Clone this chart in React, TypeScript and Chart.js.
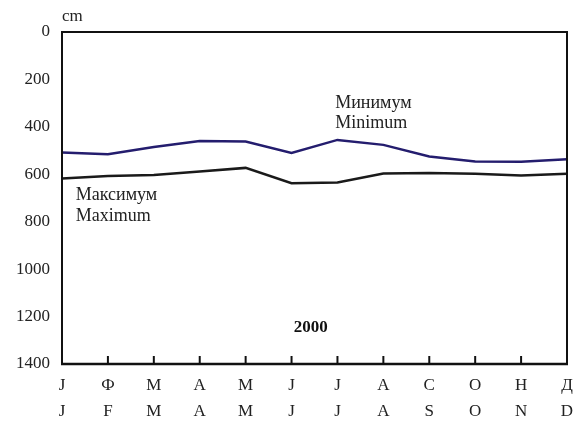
import React, { useEffect, useRef } from "react";
import { Chart, registerables } from "chart.js";

Chart.register(...registerables);

const monthsCyr = ["J", "Ф", "M", "A", "M", "J", "J", "A", "C", "O", "H", "Д"];
const monthsLat = ["J", "F", "M", "A", "M", "J", "J", "A", "S", "O", "N", "D"];
const minimumValues = [508, 515, 485, 460, 462, 510, 455, 476, 525, 546, 547, 537];
const maximumValues = [618, 607, 603, 588, 573, 638, 635, 597, 595, 598, 605, 598];
const yTicks = [0, 200, 400, 600, 800, 1000, 1200, 1400];

const FONT = "'Liberation Serif', 'DejaVu Serif', serif";

const decor = {
  id: "decor",
  afterDatasetsDraw(chart: any) {
    const { ctx, chartArea: a, scales } = chart;
    const x = scales.x;
    const y = scales.y;
    ctx.save();
    ctx.strokeStyle = "#111";
    ctx.lineWidth = 2;
    ctx.strokeRect(a.left, a.top, a.right - a.left, a.bottom - a.top);
    ctx.lineWidth = 2.5;
    ctx.beginPath();
    ctx.moveTo(a.left - 1, a.bottom);
    ctx.lineTo(a.right + 1, a.bottom);
    ctx.stroke();
    ctx.lineWidth = 2;
    for (let i = 1; i < monthsLat.length - 1; i++) {
      const px = x.getPixelForValue(i);
      ctx.beginPath();
      ctx.moveTo(px, a.bottom);
      ctx.lineTo(px, a.bottom - 8);
      ctx.stroke();
    }
    ctx.fillStyle = "#222";
    ctx.font = `17px ${FONT}`;
    ctx.textBaseline = "middle";
    ctx.textAlign = "left";
    ctx.fillText("cm", a.left, a.top - 15);
    ctx.font = `18px ${FONT}`;
    ctx.fillText("Минимум", x.getPixelForValue(5.95), y.getPixelForValue(300));
    ctx.fillText("Minimum", x.getPixelForValue(5.95), y.getPixelForValue(385));
    ctx.fillText("Максимум", x.getPixelForValue(0.3), y.getPixelForValue(688));
    ctx.fillText("Maximum", x.getPixelForValue(0.3), y.getPixelForValue(778));
    ctx.font = `bold 17px ${FONT}`;
    ctx.fillStyle = "#111";
    ctx.fillText("2000", x.getPixelForValue(5.05), y.getPixelForValue(1245));
    ctx.restore();
  },
};

export default function App() {
  const ref = useRef<HTMLCanvasElement | null>(null);
  useEffect(() => {
    document.body.style.margin = "0";
    const chart = new Chart(ref.current!, {
      type: "line",
      data: {
        labels: monthsCyr.map((c, i) => [c, monthsLat[i]]),
        datasets: [
          {
            label: "Минимум",
            data: minimumValues,
            borderColor: "#241d6e",
            borderWidth: 2.5,
            pointRadius: 0,
            tension: 0,
          },
          {
            label: "Максимум",
            data: maximumValues,
            borderColor: "#1a1a1a",
            borderWidth: 2.5,
            pointRadius: 0,
            tension: 0,
          },
        ],
      },
      options: {
        animation: false,
        responsive: false,
        layout: { padding: { top: 32, right: 0, left: 0, bottom: 0 } },
        plugins: { legend: { display: false }, tooltip: { enabled: false } },
        scales: {
          x: {
            offset: false,
            grid: { display: false, drawTicks: false },
            border: { display: false },
            ticks: {
              color: "#222",
              font: { family: FONT, size: 17, lineHeight: 1.53 },
              padding: 9,
              maxRotation: 0,
              autoSkip: false,
            },
            afterFit(s: any) {
              s.height = 58;
              s.paddingRight = 9;
            },
          },
          y: {
            reverse: true,
            min: 0,
            max: 1400,
            afterBuildTicks(s: any) {
              s.ticks = yTicks.map((v) => ({ value: v }));
            },
            grid: { display: false, drawTicks: false },
            border: { display: false },
            ticks: {
              color: "#222",
              font: { family: FONT, size: 17 },
              padding: 12,
              callback: (v: any) => String(v),
            },
            afterFit(s: any) {
              s.width = 62;
            },
          },
        },
      },
      plugins: [decor],
    });
    return () => chart.destroy();
  }, []);
  return (
    <div style={{ width: 576, height: 422 }}>
      <canvas ref={ref} width={576} height={422} />
    </div>
  );
}
